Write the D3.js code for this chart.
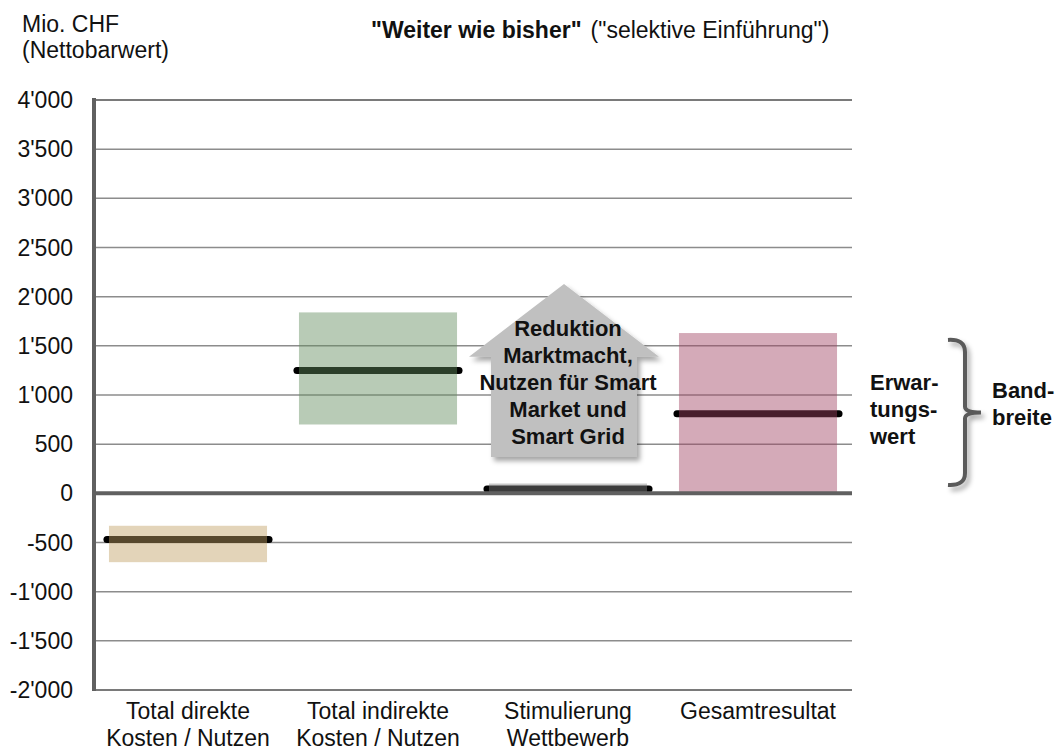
<!DOCTYPE html>
<html>
<head>
<meta charset="utf-8">
<script src="https://cdn.jsdelivr.net/npm/d3@7"></script>
<style>
  body { margin: 0; background: #fff; }
  svg { display: block; font-family: "Liberation Sans", Arial, sans-serif; }
</style>
</head>
<body>
<div id="chart"></div>
<script>
// categories (two lines each) and the band per category
const categories = [
  ["Total direkte", "Kosten / Nutzen"],
  ["Total indirekte", "Kosten / Nutzen"],
  ["Stimulierung", "Wettbewerb"],
  ["Gesamtresultat"]
];
const lowValues = [-700, 700, 0, 0];
const highValues = [-330, 1840, 100, 1630];
const expectedValues = [-470, 1250, 45, 810];
// translucent fills, the expected-value line shows through darker
const barColors = ["#c19f63", "#618b5d", "#858585", "#9f4261"];

const yTicks = d3.range(-2000, 4001, 500);

// arrow annotation (value units), sits on the 3rd category
const arrowTip = 2130, arrowHeadBase = 1390, arrowBottom = 370;
const arrowLines = ["Reduktion", "Marktmacht,", "Nutzen für Smart", "Market und", "Smart Grid"];

// bracket annotation (value units)
const bracketTop = 1560, bracketBottom = 85;
const expectedLabel = ["Erwar-", "tungs-", "wert"];
const rangeLabel = ["Band-", "breite"];

const width = 1061, height = 756;
const x0 = 93, x1 = 853, yTop = 100, yBottom = 690;

const svg = d3.select("#chart").append("svg")
  .attr("width", width)
  .attr("height", height);

const defs = svg.append("defs");
defs.append("filter").attr("id", "shadow")
  .attr("x", "-20%").attr("y", "-20%").attr("width", "150%").attr("height", "150%")
  .append("feDropShadow")
  .attr("dx", 3).attr("dy", 4).attr("stdDeviation", 2.5)
  .attr("flood-color", "#000").attr("flood-opacity", 0.35);

const y = d3.scaleLinear().domain([-2000, 4000]).range([yBottom, yTop]);
const x = d3.scaleBand()
  .domain(d3.range(categories.length))
  .range([x0, x1])
  .paddingInner(0.168)
  .paddingOuter(0.084);

const fmt = d3.formatLocale({ decimal: ".", thousands: "'", grouping: [3], currency: ["", ""], minus: "-" }).format(",");

// gridlines
svg.append("g")
  .selectAll("line")
  .data(yTicks.filter(d => d !== 0))
  .join("line")
  .attr("x1", x0 + 2).attr("x2", 852)
  .attr("y1", d => y(d)).attr("y2", d => y(d))
  .attr("stroke", d => (d === 4000 || d === -2000) ? "#7a7a7a" : "#8c8c8c")
  .attr("stroke-width", d => (d === 4000 || d === -2000) ? 2 : 1.5);

// y labels
svg.append("g")
  .selectAll("text")
  .data(yTicks)
  .join("text")
  .attr("x", 73)
  .attr("y", d => y(d))
  .attr("dy", "0.35em")
  .attr("text-anchor", "end")
  .attr("font-size", 23)
  .attr("fill", "#111")
  .text(d => fmt(d));

// expected value lines (under translucent bars)
svg.append("g")
  .selectAll("line")
  .data(expectedValues)
  .join("line")
  .attr("x1", (d, i) => x(i) - 2)
  .attr("x2", (d, i) => x(i) + x.bandwidth() + 2)
  .attr("y1", d => y(d)).attr("y2", d => y(d))
  .attr("stroke", "#000")
  .attr("stroke-width", 7)
  .attr("stroke-linecap", "round");

// range bars
svg.append("g")
  .selectAll("rect")
  .data(lowValues)
  .join("rect")
  .attr("x", (d, i) => x(i))
  .attr("width", x.bandwidth())
  .attr("y", (d, i) => y(highValues[i]))
  .attr("height", (d, i) => y(d) - y(highValues[i]))
  .attr("fill", (d, i) => barColors[i])
  .attr("fill-opacity", 0.45);

// axes
svg.append("line")
  .attr("x1", x0 + 2).attr("x2", 852)
  .attr("y1", y(0)).attr("y2", y(0))
  .attr("stroke", "#606060").attr("stroke-width", 4);
svg.append("line")
  .attr("x1", x0 + 1).attr("x2", x0 + 1)
  .attr("y1", yTop - 2).attr("y2", yBottom + 1)
  .attr("stroke", "#606060").attr("stroke-width", 4);

// arrow
const ac = x(2) + x.bandwidth() / 2 - 4;
const headHalf = 95, shaftHalf = 73;
const arrowPath = d3.path();
arrowPath.moveTo(ac, y(arrowTip));
arrowPath.lineTo(ac + headHalf, y(arrowHeadBase));
arrowPath.lineTo(ac + shaftHalf, y(arrowHeadBase));
arrowPath.lineTo(ac + shaftHalf, y(arrowBottom));
arrowPath.lineTo(ac - shaftHalf, y(arrowBottom));
arrowPath.lineTo(ac - shaftHalf, y(arrowHeadBase));
arrowPath.lineTo(ac - headHalf, y(arrowHeadBase));
arrowPath.closePath();
svg.append("path")
  .attr("d", arrowPath.toString())
  .attr("fill", "#c0c0c0")
  .attr("filter", "url(#shadow)");

svg.append("g")
  .selectAll("text")
  .data(arrowLines)
  .join("text")
  .attr("x", x(2) + x.bandwidth() / 2)
  .attr("y", (d, i) => 336 + i * 27)
  .attr("text-anchor", "middle")
  .attr("font-size", 22)
  .attr("font-weight", "bold")
  .attr("fill", "#111")
  .text(d => d);

// category labels
const catG = svg.append("g");
categories.forEach((lines, i) => {
  catG.append("text")
    .attr("x", x(i) + x.bandwidth() / 2)
    .attr("y", 719)
    .attr("text-anchor", "middle")
    .attr("font-size", 23)
    .attr("fill", "#111")
    .selectAll("tspan")
    .data(lines)
    .join("tspan")
    .attr("x", x(i) + x.bandwidth() / 2)
    .attr("dy", (d, j) => j === 0 ? 0 : 27)
    .text(d => d);
});

// unit label
svg.append("text")
  .attr("x", 22).attr("y", 32)
  .attr("font-size", 23).attr("fill", "#111")
  .text("Mio. CHF");
svg.append("text")
  .attr("x", 22).attr("y", 58)
  .attr("font-size", 23).attr("fill", "#111")
  .text("(Nettobarwert)");

// title
const title = svg.append("text")
  .attr("x", 371).attr("y", 38)
  .attr("font-size", 23).attr("fill", "#111");
title.append("tspan").attr("font-weight", "bold").text("\"Weiter wie bisher\"");
title.append("tspan").attr("dx", 9).text("(\"selektive Einführung\")");

// bracket
const bx = 965, bTop = y(bracketTop), bBot = y(bracketBottom), bMid = (bTop + bBot) / 2;
const br = d3.path();
br.moveTo(bx - 17, bTop);
br.quadraticCurveTo(bx, bTop - 1, bx, bTop + 12);
br.lineTo(bx, bMid - 6);
br.quadraticCurveTo(bx, bMid, bx + 16, bMid);
br.quadraticCurveTo(bx, bMid, bx, bMid + 6);
br.lineTo(bx, bBot - 12);
br.quadraticCurveTo(bx, bBot + 1, bx - 17, bBot);
svg.append("path")
  .attr("d", br.toString())
  .attr("fill", "none")
  .attr("stroke", "#5a5a5a")
  .attr("stroke-width", 4)
  .attr("filter", "url(#shadow)");

svg.append("g")
  .selectAll("text")
  .data(expectedLabel)
  .join("text")
  .attr("x", 870)
  .attr("y", (d, i) => 390 + i * 27)
  .attr("font-size", 22)
  .attr("font-weight", "bold")
  .attr("fill", "#111")
  .text(d => d);

svg.append("g")
  .selectAll("text")
  .data(rangeLabel)
  .join("text")
  .attr("x", 992)
  .attr("y", (d, i) => 398 + i * 27)
  .attr("font-size", 22)
  .attr("font-weight", "bold")
  .attr("fill", "#111")
  .text(d => d);
</script>
</body>
</html>
